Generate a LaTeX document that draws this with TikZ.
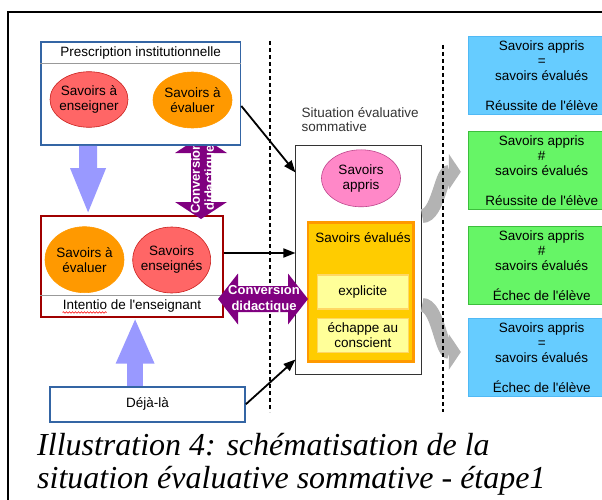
\documentclass[tikz,border=0pt]{standalone}
\usepackage{fontspec}
\setmainfont[Ligatures=TeXOff]{Liberation Sans}
\newfontfamily\legfont{Liberation Serif}
\usetikzlibrary{shapes.geometric,arrows.meta,decorations.pathmorphing}
\definecolor{bordbleu}{RGB}{52,101,164}
\definecolor{bordrouge}{RGB}{160,0,0}
\definecolor{rouge}{RGB}{255,102,102}
\definecolor{rougefonce}{RGB}{201,33,30}
\definecolor{orangesav}{RGB}{255,153,0}
\definecolor{rose}{RGB}{255,136,200}
\definecolor{rosefonce}{RGB}{190,70,140}
\definecolor{jaune}{RGB}{255,204,0}
\definecolor{jauneclair}{RGB}{255,255,153}
\definecolor{bordjaune}{RGB}{255,215,100}
\definecolor{bleuclair}{RGB}{102,204,255}
\definecolor{bordbleuclair}{RGB}{80,185,245}
\definecolor{vert}{RGB}{102,245,102}
\definecolor{bordvert}{RGB}{60,190,60}
\definecolor{lavande}{RGB}{153,153,255}
\definecolor{violet}{RGB}{128,0,128}
\definecolor{gris}{RGB}{179,179,179}
\begin{document}
\begin{tikzpicture}[x=1pt,y=-1pt, every node/.style={font=\fontsize{13.5}{15}\selectfont},
	boite/.style={draw, fill=white, inner sep=0, line width=1.8pt},
	ell/.style={ellipse, inner sep=0, line width=0.6pt},
	petite/.style={draw=bordjaune, fill=jauneclair, line width=1.2pt, inner sep=0, minimum width=91pt, minimum height=34pt, align=center},
	resultat/.style={inner sep=0, line width=1pt, minimum width=146.7pt, minimum height=78.3pt, align=center},
	sep/.style={black!40, line width=1pt},
	fleche/.style={line width=1.8pt, -{Triangle[length=12pt,width=9pt]}},
	gfleche/.style={gris, line width=14pt, -{Triangle[length=12pt,width=35pt]}},
	pointille/.style={line width=2pt, dash pattern=on 4pt off 3pt},
	conv/.style={text=white, inner sep=0, align=center, font=\bfseries\fontsize{13}{14}\selectfont}]
\useasboundingbox (0,0) rectangle (602,500);
\clip (0,0) rectangle (602,500);
\draw[line width=2pt] (8,12) rectangle (640,540); % cadre
% intention de l'enseignant
\node[boite, draw=bordrouge, minimum width=182pt, minimum height=100.7pt] (intent) at (132,266.3) {};
\node[ell, fill=orangesav, draw=orangesav, minimum width=79pt, minimum height=66pt, label={[align=center]center:Savoirs à\\évaluer}] (evaluer2) at (84.5,259.7) {};
\node[ell, fill=rouge, draw=rougefonce, minimum width=78pt, minimum height=66pt, label={[align=center]center:Savoirs\\enseignés}] (enseignes) at (171.7,260) {};
\draw[sep] ([yshift=21.7pt]intent.south west) -- ([yshift=21.7pt]intent.south east);
\node[inner sep=0] (inttitre) at (132,306) {Intentio de l'enseignant};
\draw[red, line width=0.6pt, decorate, decoration={snake, amplitude=0.8pt, segment length=3pt}] ([yshift=-3pt]inttitre.base west) -- ++(44,0);
% conversion verticale
\fill[violet] (201,136) -- (227,153) -- (211,153) -- (211,202) -- (227,202) -- (201,219) -- (175,202) -- (191,202) -- (191,153) -- (175,153) -- cycle;
\node[conv, rotate=90] (convv) at (203.5,178) {Conversion\\didactique};
% prescription institutionnelle
\node[boite, draw=bordbleu, minimum width=199.5pt, minimum height=103.3pt] (presc) at (140.7,93.3) {};
\node (prestitre) at (140.7,53) {Prescription institutionnelle};
\draw[sep] ([yshift=-22.3pt]presc.north west) -- ([yshift=-22.3pt]presc.north east);
\node[ell, fill=rouge, draw=rougefonce, minimum width=78pt, minimum height=55.6pt, label={[align=center]center:Savoirs à\\enseigner}] (enseigner) at (89,99.5) {};
\node[ell, fill=orangesav, draw=orangesav, minimum width=79pt, minimum height=56pt, label={[align=center]center:Savoirs à\\évaluer}] (evaluer1) at (192.5,100) {};
% deja-la
\node[boite, draw=bordbleu, minimum width=195pt, minimum height=35pt] (dejala) at (147.5,404.2) {Déjà-là};
% situation evaluative
\node[anchor=north west, align=left, inner sep=0, text=black!80, font=\fontsize{13.5}{14.3}\selectfont] (sitlab) at (301.5,107) {Situation évaluative\\sommative};
\node[draw=black!80, fill=white, line width=1pt, inner sep=0, minimum width=125.7pt, minimum height=229pt] (sit) at (358.8,259.5) {};
\node[ell, fill=rose, draw=rosefonce, minimum width=79pt, minimum height=57pt, label={[align=center]center:Savoirs\\appris}] (appris) at (361,178.3) {};
\node[draw=orangesav, fill=jaune, line width=2.5pt, inner sep=0, minimum width=105.3pt, minimum height=139.4pt] (evalues) at (360.7,292) {};
\node (evaltitre) at (363,237.5) {Savoirs évalués};
\node[petite] (explicite) at (362.8,292) {explicite};
\node[petite] (echappe) at (362.8,335.3) {échappe au\\conscient};
% resultats
\node[resultat, fill=bleuclair, draw=bordbleuclair] (res1) at (541.7,75.8) {Savoirs appris\\=\\savoirs évalués\\[15pt]Réussite de l'élève};
\node[resultat, fill=vert, draw=bordvert] (res2) at (541.7,170.8) {Savoirs appris\\\#\\savoirs évalués\\[15pt]Réussite de l'élève};
\node[resultat, fill=vert, draw=bordvert] (res3) at (541.7,265.8) {Savoirs appris\\\#\\savoirs évalués\\[15pt]Échec de l'élève};
\node[resultat, fill=bleuclair, draw=bordbleuclair] (res4) at (541.7,357.5) {Savoirs appris\\=\\savoirs évalués\\[15pt]Échec de l'élève};
% grosses fleches
\draw[lavande, line width=18pt, -{Triangle[length=47pt,width=32pt]}] ([xshift=48pt]presc.south west) -- ([xshift=48pt]intent.north west);
\draw[lavande, line width=16pt, -{Triangle[length=46pt,width=35pt]}] ([xshift=86pt]dejala.north west) -- ([xshift=95pt]intent.south west);
\draw[fleche] ([yshift=-12.7pt]presc.east) -- ([yshift=-28pt]sit.north west);
\draw[fleche] ([yshift=13.3pt]intent.east) -- ([yshift=13.3pt]intent.east -| sit.west);
\draw[fleche] (dejala.east) -- ([yshift=15pt]sit.south west);
\draw[gfleche] ([yshift=43.5pt]sit.east) .. controls +(16,0) and +(-20,0) .. ([xshift=-7pt,yshift=-1pt]res2.west);
\draw[gfleche] ([yshift=-45.5pt]sit.east) .. controls +(16,0) and +(-20,0) .. ([xshift=-7pt,yshift=5.5pt]res4.west);
\draw[pointille] (270,41) -- (270,412);
\draw[pointille] (442.5,45) -- (442.5,412);
% conversion horizontale
\fill[violet] (218,299) -- (238,273.5) -- (238,286) -- (288,286) -- (288,273.5) -- (308,299) -- (288,324.5) -- (288,312) -- (238,312) -- (238,324.5) -- cycle;
\node[conv, font=\bfseries\fontsize{13}{16}\selectfont] (convh) at (264,299) {Conversion\\didactique};
% legende
\node[anchor=base west, inner sep=0, font=\legfont\itshape\fontsize{32}{33}\selectfont] (leg1) at (37,455) {Illustration 4: schématisation de la};
\node[anchor=base west, inner sep=0, font=\legfont\itshape\fontsize{32}{33}\selectfont] (leg2) at (37,488) {situation évaluative sommative - étape1};
\end{tikzpicture}
\end{document}
